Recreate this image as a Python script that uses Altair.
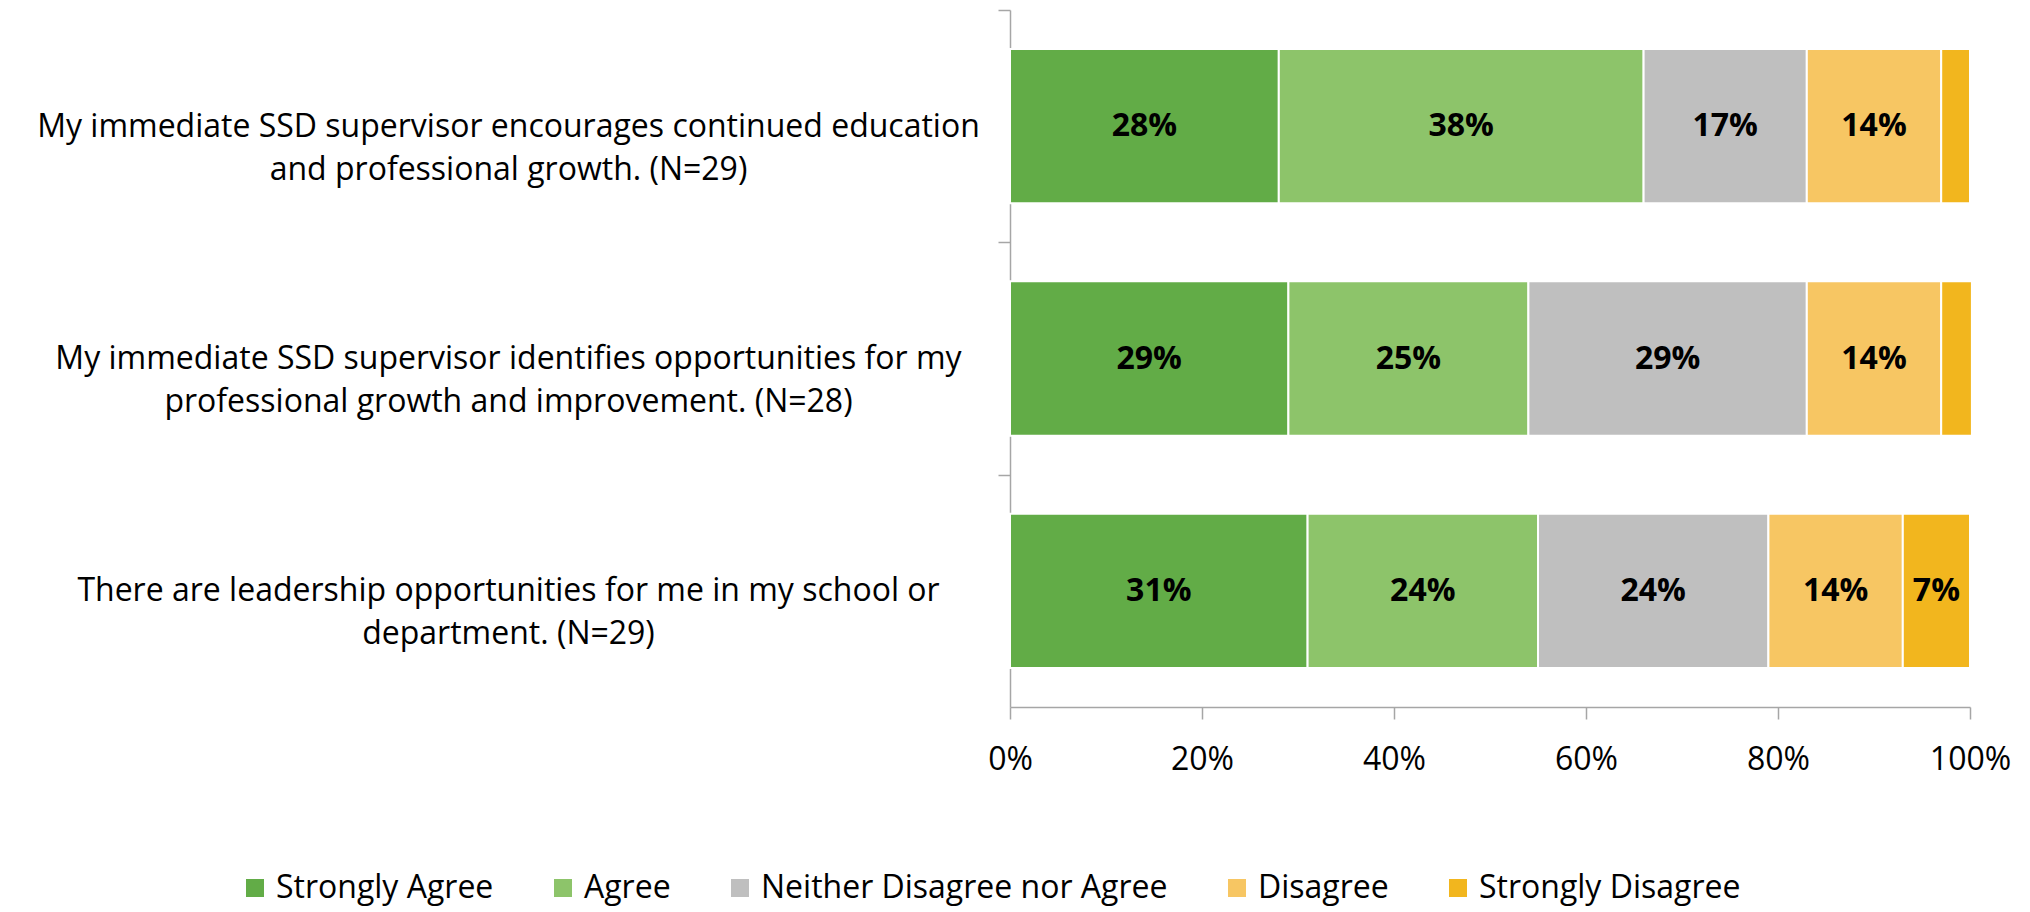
import altair as alt
import pandas as pd

questions = [
    "My immediate SSD supervisor encourages continued education|and professional growth. (N=29)",
    "My immediate SSD supervisor identifies opportunities for my|professional growth and improvement. (N=28)",
    "There are leadership opportunities for me in my school or|department. (N=29)",
]
responses = ["Strongly Agree", "Agree", "Neither Disagree nor Agree", "Disagree", "Strongly Disagree"]
colors = ["#62AC47", "#8DC46A", "#BFBFBF", "#F7C663", "#F2B61E"]

# percentages
strongly_agree = [28, 29, 31]
agree = [38, 25, 24]
neither = [17, 29, 24]
disagree = [14, 14, 14]
strongly_disagree = [3, 3.2, 7]

series = [strongly_agree, agree, neither, disagree, strongly_disagree]
rows = []
for oi, (resp, vals) in enumerate(zip(responses, series)):
    for q, v in zip(questions, vals):
        rows.append({"question": q, "response": resp, "value": v / 100.0, "order": oi})
df = pd.DataFrame(rows)

FONT = "Open Sans"
GRAY = "#A6A6A6"
FS = 32
HEIGHT = 697
HALF_STEP = HEIGHT / 3 / 2

y_axis = alt.Axis(
    labelExpr="split(datum.label, '|')",
    labelAlign="center",
    labelBaseline="middle",
    labelPadding=490,
    labelFont=FONT,
    labelFontSize=FS,
    labelColor="#000000",
    labelLimit=0,
    labelLineHeight=43,
    tickOffset=-HALF_STEP,
    labelOffset=HALF_STEP,
    tickSize=12,
    tickColor=GRAY,
    domainColor=GRAY,
    domainWidth=1.5,
    tickWidth=1.5,
    grid=False,
)

x_axis = alt.Axis(
    format=".0%",
    values=[0, 0.2, 0.4, 0.6, 0.8, 1.0],
    tickSize=12,
    tickColor=GRAY,
    domainColor=GRAY,
    domainWidth=1.5,
    tickWidth=1.5,
    labelPadding=25,
    labelFont=FONT,
    labelFontSize=FS,
    labelColor="#000000",
    labelFlush=False,
    grid=False,
)

x_scale = alt.Scale(domain=[0, 1], nice=False)
y_scale = alt.Scale(paddingInner=0.336, paddingOuter=0.168)

base = alt.Chart(df).transform_stack(
    stack="value",
    groupby=["question"],
    sort=[alt.SortField("order", order="ascending")],
    as_=["x0", "x1"],
).transform_calculate(mid="(datum.x0 + datum.x1) / 2")

bars = base.mark_bar(stroke="white", strokeWidth=2).encode(
    x=alt.X("x0:Q", title=None, scale=x_scale, axis=x_axis),
    x2="x1:Q",
    y=alt.Y("question:N", sort=questions, title=None, scale=y_scale, axis=y_axis),
    color=alt.Color(
        "response:N",
        sort=responses,
        scale=alt.Scale(domain=responses, range=colors),
        legend=alt.Legend(
            title=None,
            orient="none",
            legendX=-771,
            legendY=862,
            direction="horizontal",
            symbolType="square",
            symbolSize=324,
            symbolStrokeWidth=0,
            labelFont=FONT,
            labelFontSize=FS,
            labelColor="#000000",
            labelOffset=5,
            columnPadding=53,
            labelLimit=0,
        ),
    ),
)

labels = base.transform_filter("datum.value >= 0.05").mark_text(
    font=FONT, fontSize=FS, fontWeight="bold", color="#000000", baseline="middle"
).encode(
    x=alt.X("mid:Q", title=None, scale=x_scale, axis=x_axis),
    y=alt.Y("question:N", sort=questions, title=None, scale=y_scale, axis=y_axis),
    text=alt.Text("value:Q", format=".0%"),
)

chart = (
    alt.layer(bars, labels)
    .properties(
        width=960,
        height=HEIGHT,
        padding={"left": 1002, "top": 2, "right": 45, "bottom": 203},
        autosize=alt.AutoSizeParams(type="none"),
        background="white",
    )
    .configure_view(stroke=None)
)

chart.save("out.html", embed_options={"renderer": "svg", "actions": False})
